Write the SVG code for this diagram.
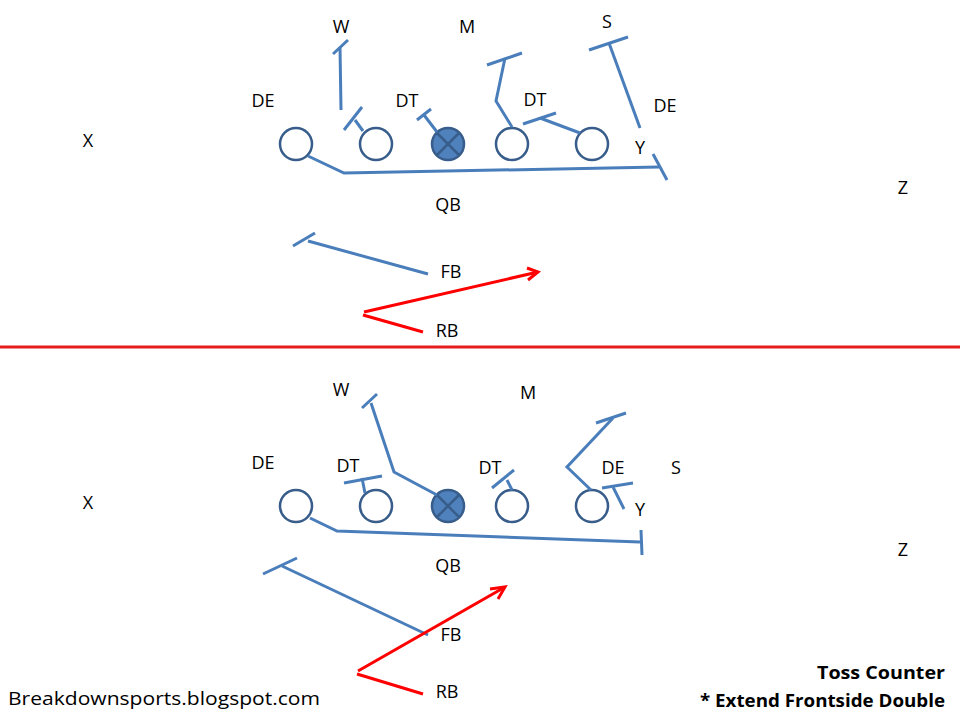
<svg xmlns="http://www.w3.org/2000/svg" width="960" height="720" viewBox="0 0 960 720">
<style>
.t{font-family:"Open Sans","Liberation Sans",sans-serif;font-size:18px;fill:#000;text-anchor:middle}
.b{fill:none;stroke:#4A7EBB;stroke-width:3;stroke-linejoin:miter}
.r{fill:none;stroke:#FF0000;stroke-width:3}
.o{fill:#fff;stroke:#385D8A;stroke-width:2.5}
.c{fill:#4F81BD;stroke:#385D8A;stroke-width:2.5}
.x{stroke:#385D8A;stroke-width:2.5}
.f{font-family:"Open Sans","Liberation Sans",sans-serif;font-size:18px;font-weight:bold;fill:#000;text-anchor:end}
</style>
<rect width="960" height="720" fill="#fff"/>
<g id="top-offense">
<circle class="o" cx="296" cy="144" r="16"/>
<circle class="o" cx="376" cy="144" r="16"/>
<g id="top-center"><circle class="c" cx="448" cy="144" r="16"/><line class="x" x1="437" y1="133" x2="459" y2="155"/><line class="x" x1="459" y1="133" x2="437" y2="155"/></g>
<circle class="o" cx="512" cy="144" r="16"/>
<circle class="o" cx="592" cy="144" r="16"/>
</g>
<g id="bottom-offense">
<circle class="o" cx="296" cy="506" r="16"/>
<circle class="o" cx="376" cy="506" r="16"/>
<g id="bottom-center"><circle class="c" cx="448" cy="506" r="16"/><line class="x" x1="437" y1="495" x2="459" y2="517"/><line class="x" x1="459" y1="495" x2="437" y2="517"/></g>
<circle class="o" cx="512" cy="506" r="16"/>
<circle class="o" cx="592" cy="506" r="16"/>
</g>
<g id="connectors">
<!-- top -->
<polyline class="b" points="341,110 340,47"/><line class="b" x1="333" y1="54" x2="348" y2="40"/>
<line class="b" x1="344" y1="130" x2="362" y2="107"/><line class="b" x1="355" y1="120" x2="363" y2="131"/>
<line class="b" x1="417" y1="120" x2="431" y2="109"/><line class="b" x1="424" y1="115" x2="437" y2="132"/>
<polyline class="b" points="308,156 344,173 659,167"/><line class="b" x1="653" y1="154" x2="667" y2="180"/>
<polyline class="b" points="512,127 496,101 505,58"/><line class="b" x1="487" y1="65" x2="522" y2="53"/>
<polyline class="b" points="580,133 540,118"/><line class="b" x1="523" y1="124" x2="556" y2="113"/>
<line class="b" x1="640" y1="128" x2="609" y2="43"/><line class="b" x1="589" y1="50" x2="628" y2="37"/>
<line class="b" x1="428" y1="274" x2="308" y2="241"/><line class="b" x1="293" y1="246" x2="315" y2="233"/>
<line class="r" x1="423" y1="332" x2="363" y2="315"/><line class="r" x1="364" y1="312" x2="538" y2="272"/><polyline class="r" points="527,268 538,272 528,280"/>
<line x1="0" y1="347" x2="960" y2="347" stroke="#E31C1C" stroke-width="3"/>
<!-- bottom -->
<polyline class="b" points="371,403 394,472 437,495"/><line class="b" x1="362" y1="408" x2="377" y2="394"/>
<line class="b" x1="344" y1="483" x2="382" y2="476"/><line class="b" x1="362" y1="478" x2="365" y2="493"/>
<polyline class="b" points="310,518 337,531 640,542"/><line class="b" x1="641" y1="530" x2="642" y2="555"/>
<line class="b" x1="492" y1="488" x2="514" y2="470"/><line class="b" x1="507" y1="480" x2="512" y2="490"/>
<polyline class="b" points="591,490 567,467 613,418"/><line class="b" x1="596" y1="423" x2="626" y2="413"/>
<line class="b" x1="602" y1="488" x2="633" y2="483"/><line class="b" x1="613" y1="487" x2="624" y2="509"/>
<line class="b" x1="428" y1="635" x2="282" y2="566"/><line class="b" x1="263" y1="574" x2="297" y2="558"/>
<line class="r" x1="423" y1="694" x2="357" y2="674"/><line class="r" x1="358" y1="671" x2="505" y2="587"/><polyline class="r" points="490,589 505,587 498,599"/>
</g>
<g id="labels">
<text class="t" x="341" y="33">W</text>
<text class="t" x="467" y="33">M</text>
<text class="t" x="607" y="28">S</text>
<text class="t" x="263" y="107">DE</text>
<text class="t" x="407" y="107">DT</text>
<text class="t" x="535" y="106">DT</text>
<text class="t" x="665" y="112">DE</text>
<text class="t" x="640" y="154">Y</text>
<text class="t" x="88" y="147">X</text>
<text class="t" x="903" y="194">Z</text>
<text class="t" x="448" y="211">QB</text>
<text class="t" x="451" y="278">FB</text>
<text class="t" x="447" y="337">RB</text>
<text class="t" x="341" y="396">W</text>
<text class="t" x="528" y="399">M</text>
<text class="t" x="263" y="469">DE</text>
<text class="t" x="348" y="472">DT</text>
<text class="t" x="490" y="474">DT</text>
<text class="t" x="613" y="474">DE</text>
<text class="t" x="676" y="474">S</text>
<text class="t" x="640" y="516">Y</text>
<text class="t" x="88" y="509">X</text>
<text class="t" x="903" y="556">Z</text>
<text class="t" x="448" y="572">QB</text>
<text class="t" x="451" y="641">FB</text>
<text class="t" x="447" y="698">RB</text>
<text x="8" y="705" style="font-family:'Open Sans','Liberation Sans',sans-serif;font-size:19px" textLength="312" lengthAdjust="spacingAndGlyphs">Breakdownsports.blogspot.com</text>
<text class="f" x="945" y="679" textLength="128" lengthAdjust="spacingAndGlyphs">Toss Counter</text>
<text class="f" x="945" y="707" textLength="245" lengthAdjust="spacingAndGlyphs">* Extend Frontside Double</text>
</g>
</svg>
